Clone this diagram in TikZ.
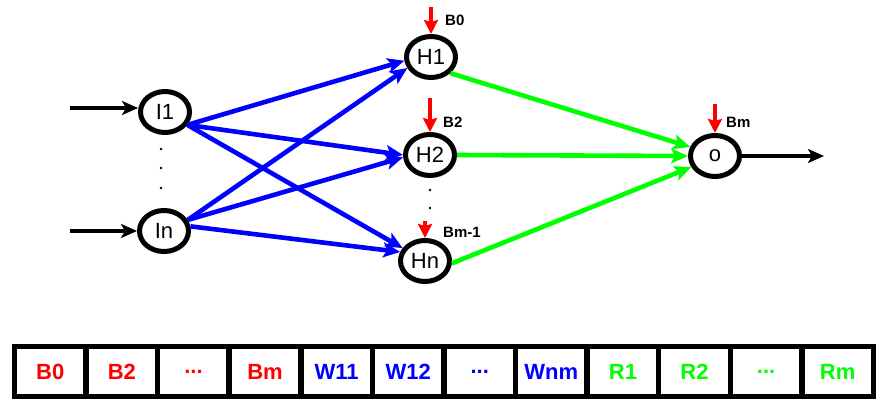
\documentclass[tikz,border=0pt]{standalone}
\usepackage{fontspec}
\setmainfont{Liberation Sans}
\usetikzlibrary{arrows.meta,shapes.geometric}
\definecolor{pblue}{RGB}{0,0,255}
\definecolor{pgreen}{RGB}{0,255,0}
\definecolor{pred}{RGB}{255,0,0}
\begin{document}
\begin{tikzpicture}[x=1pt,y=-1pt,
  neuron/.style={draw=black,line width=5pt,ellipse,inner sep=0pt,minimum width=49pt,minimum height=41pt,font=\fontsize{22}{24}\selectfont},
  blink/.style={draw=pblue,line width=4.6pt,-{Stealth[length=17pt,width=15pt,inset=4pt]}},
  glink/.style={draw=pgreen,line width=4.6pt,-{Stealth[length=17pt,width=15pt,inset=4pt]}},
  klink/.style={draw=black,line width=4.6pt,-{Stealth[length=16pt,width=14pt,inset=4pt]}},
  rlink/.style={draw=pred,line width=4.6pt,-{Stealth[length=14pt,width=14pt,inset=2pt]}},
  blab/.style={anchor=west,inner sep=0pt,font=\bfseries\fontsize{15}{16}\selectfont},
  cell/.style={draw=black,line width=5.5pt,minimum width=71.58pt,minimum height=50pt,inner sep=0pt,font=\bfseries\fontsize{22}{24}\selectfont},
  dotm/.style={circle,fill=black,inner sep=0pt,minimum size=2.8pt}
]
\useasboundingbox (0,0) rectangle (876,399);
% neurons
\node[neuron] (I1) at (165,112) {I1};
\node[neuron] (In) at (164,231) {In};
\node[neuron] (H1) at (431,57) {H1};
\node[neuron] (H2) at (430,155) {H2};
\node[neuron] (Hn) at (425,261) {Hn};
\node[neuron] (O) at (715,156) {o};
% dots
\node[dotm] (d1) at (161,149) {};
\node[dotm] (d2) at (161,168) {};
\node[dotm] (d3) at (161,188) {};
\node[dotm] (d4) at (430,190) {};
\node[dotm] (d5) at (430,208) {};
% inputs
\coordinate (in1) at (70,108);
\coordinate (in2) at (70,231);
\draw[klink] (in1) -- (I1.west |- in1);
\draw[klink] (in2) -- (In.west);
% output
\coordinate (out) at (824,156);
\draw[klink] (O.east) -- (out);
% blue links
\draw[blink] (I1.-30) -- (H1.188);
\draw[blink] (I1.-30) -- (H2.180);
\draw[blink] (I1.-30) -- (Hn.150);
\draw[blink] (In.25) -- (H1.205);
\draw[blink] (In.25) -- (H2.185);
\draw[blink] (In.10) -- (Hn.160);
% green links
\draw[glink] (H1.-40) -- (O.160);
\draw[glink] (H2.east) -- (O.180);
\draw[glink] (Hn.-5) -- (O.205);
% biases
\coordinate (b0) at (431,7);
\coordinate (b2) at (430,98);
\coordinate (bm1) at (425,221);
\coordinate (bm) at (715,104);
\draw[rlink] (b0) -- (H1.north);
\draw[rlink] (b2) -- (H2.north);
\draw[rlink] (bm1) -- (Hn.north);
\draw[rlink] (bm) -- (O.north);
\node[blab] (lb0) at (445,20) {B0};
\node[blab] (lb2) at (443,122) {B2};
\node[blab] (lbm1) at (443,232) {Bm-1};
\node[blab] (lbm) at (726,122) {Bm};
% parameter vector
\node[cell,text=pred]   (c1)  at ({14.5+71.58*0.5},371.5)  {B0};
\node[cell,text=pred]   (c2)  at ({14.5+71.58*1.5},371.5)  {B2};
\node[cell,text=pred]   (c3)  at ({14.5+71.58*2.5},371.5)  {...};
\node[cell,text=pred]   (c4)  at ({14.5+71.58*3.5},371.5)  {Bm};
\node[cell,text=pblue]  (c5)  at ({14.5+71.58*4.5},371.5)  {W11};
\node[cell,text=pblue]  (c6)  at ({14.5+71.58*5.5},371.5)  {W12};
\node[cell,text=pblue]  (c7)  at ({14.5+71.58*6.5},371.5)  {...};
\node[cell,text=pblue]  (c8)  at ({14.5+71.58*7.5},371.5)  {Wnm};
\node[cell,text=pgreen] (c9)  at ({14.5+71.58*8.5},371.5)  {R1};
\node[cell,text=pgreen] (c10) at ({14.5+71.58*9.5},371.5)  {R2};
\node[cell,text=pgreen] (c11) at ({14.5+71.58*10.5},371.5) {...};
\node[cell,text=pgreen] (c12) at ({14.5+71.58*11.5},371.5) {Rm};
\end{tikzpicture}
\end{document}
